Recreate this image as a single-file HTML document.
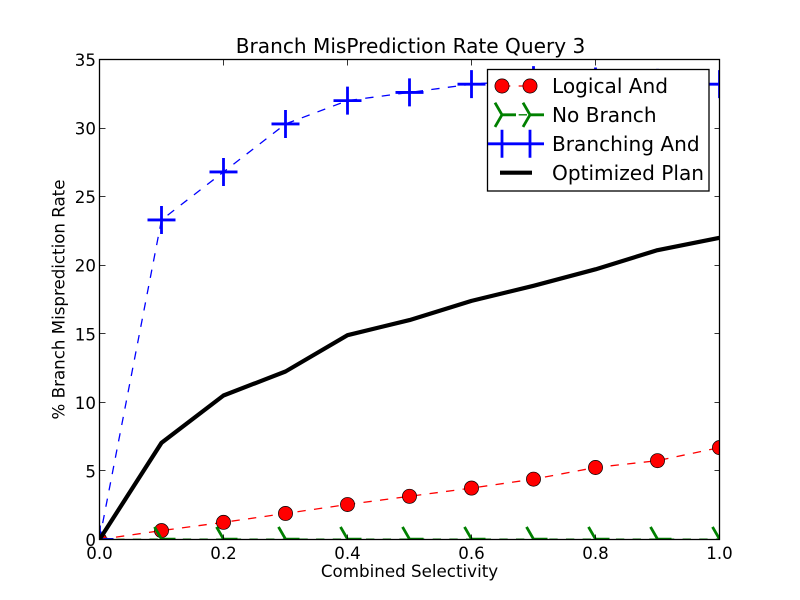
<!DOCTYPE html>
<html>
<head>
<meta charset="utf-8">
<title>Branch MisPrediction Rate Query 3</title>
<style>
html,body{margin:0;padding:0;background:#fff;}
svg{display:block;}
text{font-family:"DejaVu Sans","Liberation Sans",sans-serif;fill:#000;}
</style>
</head>
<body>
<svg id="chart" width="800" height="600" viewBox="0 0 800 600" xmlns="http://www.w3.org/2000/svg">
<defs><clipPath id="plot-clip"><rect x="100" y="60" width="620" height="480"></rect></clipPath></defs>
<rect x="0" y="0" width="800" height="600" fill="#fff"></rect>
<rect x="100" y="60" width="620" height="480" fill="#fff"></rect>
<g clip-path="url(#plot-clip)"><g id="series" transform="translate(-0.5,-0.5)"></g></g>
<g id="ticks"></g>
<rect x="99.5" y="59.5" width="620" height="480" fill="none" stroke="#000" stroke-width="1.3"></rect>
<text x="410.5" y="53" font-size="20.1" text-anchor="middle">Branch MisPrediction Rate Query 3</text>
<text x="409.5" y="577" font-size="16.72" text-anchor="middle">Combined Selectivity</text>
<text transform="translate(64.5,299.5) rotate(-90)" font-size="16.67" text-anchor="middle">% Branch Misprediction Rate</text>
<g id="legend">
<rect x="487.5" y="69.5" width="221.5" height="121.5" fill="#fff" stroke="#000" stroke-width="1.3"></rect>
<text x="552" y="93" font-size="20.1">Logical And</text>
<text x="552" y="122" font-size="20.1">No Branch</text>
<text x="552" y="151" font-size="20.1">Branching And</text>
<text x="552" y="180" font-size="20.1">Optimized Plan</text>
</g>
</svg>
<script>
const selectivity = [0, 0.1, 0.2, 0.3, 0.4, 0.5, 0.6, 0.7, 0.8, 0.9, 1.0];
const logicalAnd = [0, 0.65, 1.25, 1.9, 2.55, 3.15, 3.75, 4.4, 5.25, 5.75, 6.7];
const noBranch = [0, 0.03, 0.03, 0.03, 0.03, 0.03, 0.03, 0.03, 0.03, 0.03, 0.03];
const branchingAnd = [0, 23.3, 26.8, 30.3, 32, 32.6, 33.2, 33.5, 33.4, 33.3, 33.2];
const optimizedPlan = [0, 7.05, 10.5, 12.25, 14.9, 16, 17.4, 18.5, 19.7, 21.1, 22];
const xTickValues = [0, 0.2, 0.4, 0.6, 0.8, 1.0];
const xTickLabels = ['0.0', '0.2', '0.4', '0.6', '0.8', '1.0'];
const yTickValues = [0, 5, 10, 15, 20, 25, 30, 35];
const yTickLabels = ['0', '5', '10', '15', '20', '25', '30', '35'];

const NS = 'http://www.w3.org/2000/svg';
const xScale = v => 100 + (v - 0) / (1 - 0) * 620;
const yScale = v => 540 - (v - 0) / (35 - 0) * 480;

function make(tag, attrs, parent) {
  const el = document.createElementNS(NS, tag);
  for (const k in attrs) el.setAttribute(k, attrs[k]);
  parent.appendChild(el);
  return el;
}

function drawCircle(parent, cx, cy) {
  const el = make('circle', {cx: cx, cy: cy, r: 7.1, fill: '#ff0000', stroke: '#000', 'stroke-width': 0.7}, parent);
  
  
}

function drawTri(parent, cx, cy) {
  const d = 'M' + cx + ' ' + cy + 'h14M' + cx + ' ' + cy + 'l-7 -12.12M' + cx + ' ' + cy + 'l-7 12.12';
  const el = make('path', {d: d, fill: 'none', stroke: '#008000', 'stroke-width': 2.8}, parent);
  
  
}

function drawPlus(parent, cx, cy) {
  const d = 'M' + (cx - 14) + ' ' + cy + 'h28M' + cx + ' ' + (cy - 14) + 'v28';
  const el = make('path', {d: d, fill: 'none', stroke: '#0000ff', 'stroke-width': 2.8}, parent);
  
  
}

function linePoints(values) {
  return values.map((v, i) => xScale(selectivity[i]) + ',' + yScale(v)).join(' ');
}

function drawDashed(parent, values, color, name, marker) {
  const line = make('polyline', {points: linePoints(values), fill: 'none', stroke: color, 'stroke-width': 1.3, 'stroke-dasharray': '8.33 8.33'}, parent);
  
  
  values.forEach((v, i) => marker(parent, xScale(selectivity[i]), yScale(v)));
}

const seriesGroup = document.getElementById('series');
drawDashed(seriesGroup, logicalAnd, '#ff0000', 'logical-and-line', drawCircle);
drawDashed(seriesGroup, noBranch, '#008000', 'no-branch-line', drawTri);
drawDashed(seriesGroup, branchingAnd, '#0000ff', 'branching-and-line', drawPlus);
const optimizedLine = make('polyline', {points: linePoints(optimizedPlan), fill: 'none', stroke: '#000', 'stroke-width': 4.2, 'stroke-linejoin': 'round'}, seriesGroup);



const tickGroup = document.getElementById('ticks');
xTickValues.forEach((v, i) => {
  const x = Math.round(xScale(v)) - 0.5;
  const bottom = make('line', {x1: x, x2: x, y1: 540, y2: 534.5, stroke: '#000', 'stroke-width': 0.8}, tickGroup);
  
  
  const top = make('line', {x1: x, x2: x, y1: 60, y2: 65.5, stroke: '#000', 'stroke-width': 0.8}, tickGroup);
  
  
  const label = make('text', {x: xScale(v) - 0.5, y: 559, 'font-size': 16.67, 'text-anchor': 'middle'}, tickGroup);
  
  
  label.textContent = xTickLabels[i];
});
yTickValues.forEach((v, i) => {
  const y = Math.round(yScale(v)) - 0.5;
  const left = make('line', {x1: 100, x2: 105.5, y1: y, y2: y, stroke: '#000', 'stroke-width': 0.8}, tickGroup);
  
  
  const right = make('line', {x1: 720, x2: 714.5, y1: y, y2: y, stroke: '#000', 'stroke-width': 0.8}, tickGroup);
  
  
  const label = make('text', {x: 96, y: yScale(v) + 6, 'font-size': 16.67, 'text-anchor': 'end'}, tickGroup);
  
  
  label.textContent = yTickLabels[i];
});

const legendGroup = document.getElementById('legend');
const legendDash = {fill: 'none', 'stroke-width': 1.3, 'stroke-dasharray': '8.33 8.33'};
const legendRed = make('line', Object.assign({x1: 502, x2: 530, y1: 86, y2: 86, stroke: '#ff0000'}, legendDash), legendGroup);


drawCircle(legendGroup, 502, 86);
drawCircle(legendGroup, 530, 86);
const legendGreen = make('line', Object.assign({x1: 502, x2: 530, y1: 114.8, y2: 114.8, stroke: '#008000'}, legendDash), legendGroup);


drawTri(legendGroup, 502, 114.8);
drawTri(legendGroup, 530, 114.8);
const legendBlue = make('line', Object.assign({x1: 502, x2: 530, y1: 143.8, y2: 143.8, stroke: '#0000ff'}, legendDash), legendGroup);


drawPlus(legendGroup, 502, 143.8);
drawPlus(legendGroup, 530, 143.8);
const legendBlack = make('line', {x1: 500, x2: 532, y1: 172.7, y2: 172.7, stroke: '#000', 'stroke-width': 4.2}, legendGroup);


</script>
</body>
</html>
